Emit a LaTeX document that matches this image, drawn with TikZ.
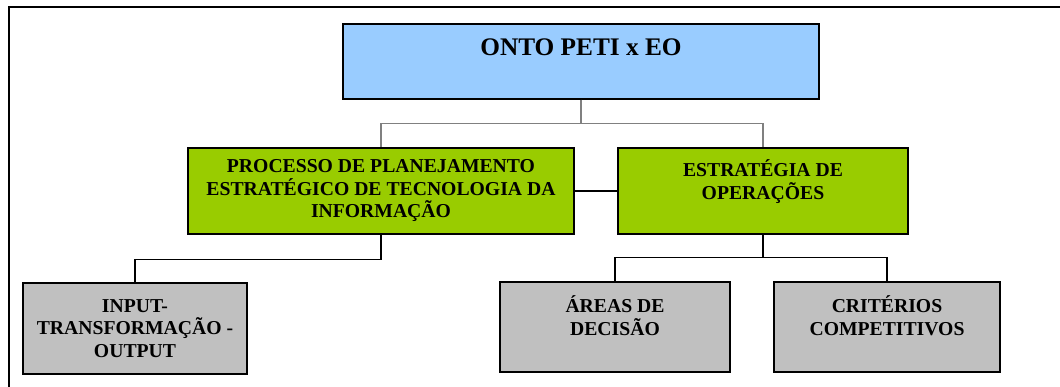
\documentclass[tikz,border=0pt]{standalone}
\usepackage{fontspec}
\setmainfont{Liberation Serif}
\usepackage{tikz}
\usetikzlibrary{positioning}
\definecolor{skyblue}{HTML}{99CCFF}
\definecolor{leafgreen}{HTML}{99CC00}
\definecolor{boxgray}{HTML}{C0C0C0}
\definecolor{linkgray}{HTML}{808080}
\tikzset{%
    blockbox/.style={draw, line width=0.9pt, align=center, inner sep=0pt,
        font=\bfseries\fontsize{14}{16}\selectfont},
    link/.style={line width=0.8pt}
}

\begin{document}
\begin{tikzpicture}[x=0.025cm,y=-0.025cm]
\clip (0,0) rectangle (1060,387);
\draw[line width=0.9pt] (9,7) rectangle (1080,400);
% top level
\node[blockbox, fill=skyblue, minimum width=11.9cm, minimum height=1.875cm,
      font=\bfseries\fontsize{18}{21}\selectfont] (onto) at (581,61.5) {ONTO PETI x EO\\\mbox{}};
% second level
\node[blockbox, fill=leafgreen, minimum width=9.65cm, minimum height=2.15cm] (peti) at (381,191)
    {PROCESSO DE PLANEJAMENTO\\ESTRAT\'EGICO DE TECNOLOGIA DA\\INFORMA\c{C}\~AO};
\node[blockbox, fill=leafgreen, minimum width=7.25cm, minimum height=2.15cm] (eo) at (763,191)
    {ESTRAT\'EGIA DE\\OPERA\c{C}\~OES\\\mbox{}};
% third level
\node[blockbox, fill=boxgray, minimum width=5.6cm, minimum height=2.275cm] (itop) at (135,328.5)
    {INPUT-\\TRANSFORMA\c{C}\~AO -\\OUTPUT};
\node[blockbox, fill=boxgray, minimum width=5.75cm, minimum height=2.25cm] (areas) at (615,327)
    {\'AREAS DE\\DECIS\~AO\\\mbox{}};
\node[blockbox, fill=boxgray, minimum width=5.65cm, minimum height=2.25cm] (crit) at (887,327)
    {CRIT\'ERIOS\\COMPETITIVOS\\\mbox{}};
% connectors
\draw[link, linkgray] (onto.south) -- ++(0,24) coordinate (topjoin);
\draw[link, linkgray] (topjoin) -| (peti.north);
\draw[link, linkgray] (topjoin) -| (eo.north);
\draw[link] (peti.east) -- (eo.west);
\draw[link] (peti.south) -- ++(0,25) -| (itop.north);
\draw[link] (eo.south) -- ++(0,23) coordinate (eojoin);
\draw[link] (eojoin) -| (areas.north);
\draw[link] (eojoin) -| (crit.north);
\end{tikzpicture}
\end{document}
